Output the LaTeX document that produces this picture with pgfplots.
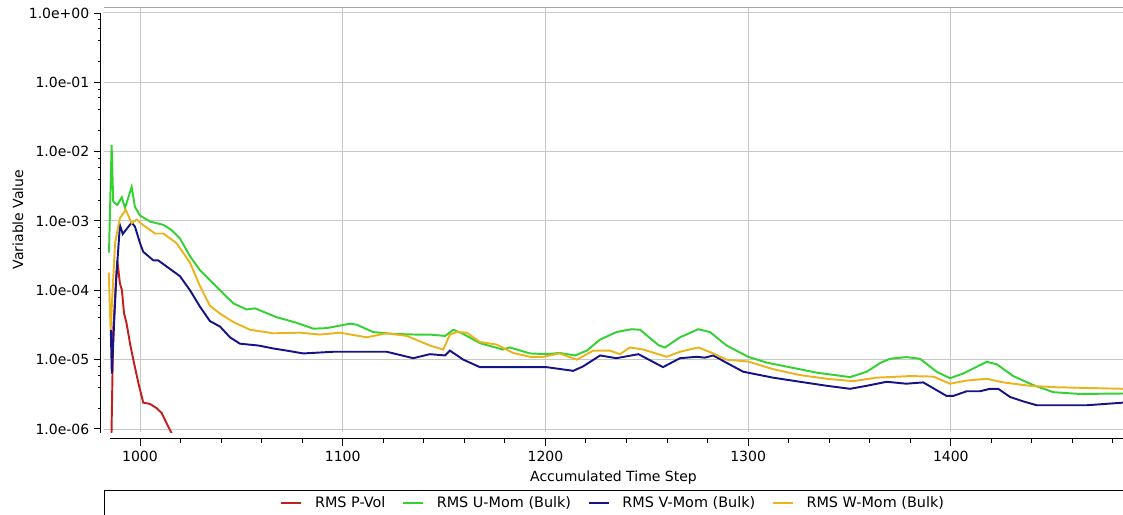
\documentclass[border=0pt]{standalone}
\usepackage{pgfplots}
\pgfplotsset{compat=1.18}
\usepackage{fontspec}
\setmainfont{DejaVu Sans}
\definecolor{cred}{RGB}{195,30,30}
\definecolor{cgreen}{RGB}{50,210,50}
\definecolor{cblue}{RGB}{20,20,135}
\definecolor{cyellow}{RGB}{235,180,30}
\newcommand{\lblfont}{\fontsize{10.5}{12}\selectfont}
\newcommand{\legfont}{\fontsize{10.8}{12}\selectfont}
\begin{document}
\begin{tikzpicture}
\begin{axis}[name=main, at={(0,0)}, anchor=south west, scale only axis,
  width=764.25pt, height=318.75pt,
  xmin=982.24, xmax=1484.95, ymode=log, ymin=9.05e-7, ymax=1.22,
  xtick={1000,1100,1200,1300,1400}, ytick={1e-6,1e-5,1e-4,1e-3,1e-2,1e-1,1},
  xticklabels={}, yticklabels={}, grid=major,
  grid style={black!22, line width=0.75pt},
  major tick length=0pt, minor tick length=0pt, axis line style={draw=none},
  xlabel={Accumulated Time Step}, ylabel={Variable Value},
  xlabel style={at={(axis description cs:0.5,-0.1082)}, anchor=center, font=\lblfont},
  ylabel style={at={(axis description cs:-0.0844,0.5)}, anchor=center, font=\lblfont},
  legend columns=4,
  legend style={at={(axis description cs:0.5,-0.167)}, anchor=center, draw=none, fill=none, font=\legfont,
    /tikz/every odd column/.append style={column sep=7.5pt},
    /tikz/every even column/.append style={column sep=10.5pt}},
  legend image code/.code={\draw[#1,line width=1.5pt] (0pt,0pt) -- (15pt,0pt);},
]
\addplot[cred, line width=1.45pt] coordinates {
(985.8,5e-7)(986.8,2.7e-5)(988.8,2.7e-4)(990.1,1.26e-4)(991.1,1e-4)(992.1,4.7e-5)(993.4,3.3e-5)
(995.1,1.7e-5)(996.7,1e-5)(999.2,4.6e-6)(1001.6,2.4e-6)(1004.9,2.3e-6)(1008.2,2e-6)(1010.7,1.7e-6)
(1013.2,1.2e-6)(1015.6,8.7e-7)(1017,6e-7)};
\addlegendentry{RMS P-Vol}
\addplot[cgreen, line width=1.45pt] coordinates {
(984.7,3.5e-4)(986.0,1.25e-2)(986.8,1.9e-3)(988.8,1.7e-3)(991.0,2.2e-3)(992.6,1.55e-3)(994.5,2.3e-3)
(995.9,3.1e-3)(997.5,1.6e-3)(1000,1.2e-3)(1005,9.8e-4)(1011.5,8.8e-4)(1015.6,7.4e-4)(1019.7,5.6e-4)
(1024.7,3.1e-4)(1029.6,1.95e-4)(1034.5,1.4e-4)(1039.5,1.0e-4)(1046,6.5e-5)(1052.6,5.3e-5)(1056.7,5.5e-5)
(1067.4,4.1e-5)(1077.3,3.4e-5)(1085.5,2.8e-5)(1092,2.85e-5)(1103.6,3.3e-5)(1106.9,3.2e-5)(1115,2.5e-5)
(1125,2.35e-5)(1136.5,2.3e-5)(1143,2.3e-5)(1150.5,2.2e-5)(1154.6,2.7e-5)(1159.5,2.35e-5)(1167.7,1.73e-5)
(1179,1.4e-5)(1182.5,1.5e-5)(1192.4,1.23e-5)(1200.6,1.2e-5)(1207,1.25e-5)(1214.6,1.15e-5)(1220.4,1.35e-5)
(1227,1.95e-5)(1235,2.5e-5)(1242.6,2.75e-5)(1246.7,2.7e-5)(1256,1.6e-5)(1259,1.5e-5)(1266.4,2.1e-5)
(1275.4,2.75e-5)(1281.2,2.5e-5)(1289.4,1.6e-5)(1300,1.1e-5)(1309,9.1e-6)(1322.3,7.6e-6)(1333.8,6.5e-6)
(1350.3,5.6e-6)(1358.5,6.7e-6)(1365,8.9e-6)(1370,1.03e-5)(1378,1.09e-5)(1384.8,1.03e-5)(1393,6.7e-6)
(1399.6,5.4e-6)(1406,6.3e-6)(1417.7,9.3e-6)(1422.6,8.6e-6)(1430.8,5.8e-6)(1440.7,4.3e-6)(1450.5,3.4e-6)
(1463.8,3.2e-6)(1485,3.25e-6)};
\addlegendentry{RMS U-Mom (Bulk)}
\addplot[cblue, line width=1.45pt] coordinates {
(985.6,2.7e-5)(986.1,6.3e-6)(988.2,1.4e-4)(990.1,8.7e-4)(991.5,6.5e-4)(993,7.4e-4)(995.9,9.5e-4)
(997.5,8.3e-4)(1000,4.8e-4)(1001.6,3.6e-4)(1006.6,2.7e-4)(1009,2.7e-4)(1013.2,2.2e-4)(1019.7,1.6e-4)
(1024.7,1e-4)(1029.6,5.8e-5)(1034.5,3.6e-5)(1039.5,3e-5)(1044.4,2.1e-5)(1049.3,1.7e-5)(1058.4,1.6e-5)
(1065.8,1.45e-5)(1072.4,1.35e-5)(1080.6,1.23e-5)(1095.3,1.3e-5)(1111.8,1.3e-5)(1121.7,1.3e-5)
(1134.8,1.05e-5)(1143,1.2e-5)(1150.5,1.15e-5)(1152.9,1.35e-5)(1159.5,1.0e-5)(1167.7,7.8e-6)
(1176,7.8e-6)(1192.4,7.8e-6)(1200.6,7.8e-6)(1213.7,6.9e-6)(1218.6,8e-6)(1227,1.15e-5)(1235,1.05e-5)
(1245.9,1.2e-5)(1258,7.8e-6)(1266.4,1.05e-5)(1274.6,1.1e-5)(1278.7,1.07e-5)(1282.8,1.15e-5)
(1289.4,9e-6)(1297.6,6.7e-6)(1312.3,5.5e-6)(1325.6,4.8e-6)(1338.8,4.2e-6)(1350.3,3.8e-6)
(1358.5,4.2e-6)(1368.4,4.8e-6)(1378,4.5e-6)(1386.4,4.7e-6)(1397.9,3e-6)(1401.2,3e-6)(1407.8,3.5e-6)
(1414.4,3.5e-6)(1419.3,3.8e-6)(1423.4,3.8e-6)(1429.2,2.9e-6)(1435.8,2.5e-6)(1442.4,2.2e-6)
(1467,2.2e-6)(1485,2.4e-6)};
\addlegendentry{RMS V-Mom (Bulk)}
\addplot[cyellow, line width=1.45pt] coordinates {
(984.6,1.8e-4)(985.5,2.7e-5)(987.7,4.8e-4)(990.1,1.1e-3)(993,1.45e-3)(995.9,9.3e-4)(998.4,1.05e-3)
(1001.6,8.7e-4)(1007.4,6.6e-4)(1011.5,6.6e-4)(1018,4.8e-4)(1024.7,2.5e-4)(1029.6,1.15e-4)(1034.5,6e-5)
(1039.5,4.6e-5)(1046,3.5e-5)(1054.3,2.7e-5)(1065.8,2.4e-5)(1079,2.45e-5)(1088.8,2.3e-5)(1098.7,2.45e-5)
(1111.8,2.1e-5)(1121.7,2.4e-5)(1131.6,2.2e-5)(1143,1.6e-5)(1149.6,1.4e-5)(1152.9,2.3e-5)(1156.2,2.5e-5)
(1161.2,2.45e-5)(1167.7,1.8e-5)(1176,1.65e-5)(1184.1,1.25e-5)(1192.4,1.1e-5)(1199,1.1e-5)(1207,1.23e-5)
(1215.4,1.0e-5)(1223.6,1.35e-5)(1231.9,1.35e-5)(1236.8,1.2e-5)(1241.7,1.5e-5)(1248.3,1.4e-5)
(1259.8,1.1e-5)(1266.4,1.3e-5)(1275.4,1.5e-5)(1282.8,1.23e-5)(1289.4,1.0e-5)(1300,9.4e-6)
(1312.3,7.3e-6)(1325.6,6e-6)(1338.8,5.3e-6)(1351.9,4.9e-6)(1363.4,5.5e-6)(1380,5.8e-6)(1391.4,5.7e-6)
(1399.6,4.5e-6)(1407.8,5e-6)(1417.7,5.3e-6)(1425.9,4.7e-6)(1439,4.2e-6)(1452.2,4e-6)(1485,3.8e-6)};
\addlegendentry{RMS W-Mom (Bulk)}
\draw[black!35, line width=0.75pt] (rel axis cs:0,0) -- (rel axis cs:0,1) -- (rel axis cs:1,1);
\end{axis}
% y tick axis
\begin{axis}[at={(-2.25pt,-0.75pt)}, anchor=south west, scale only axis,
  width=1pt, height=315pt, xmin=0, xmax=1, ymode=log, ymin=8.75e-7, ymax=1,
  axis x line=none, axis y line=left, axis line style={-, black, line width=0.75pt},
  ytick={1e-6,1e-5,1e-4,1e-3,1e-2,1e-1,1},
  yticklabels={1.0e-06,1.0e-05,1.0e-04,1.0e-03,1.0e-02,1.0e-01,1.0e+00},
  minor ytick={2e-6,4e-6,6e-6,8e-6,2e-5,4e-5,6e-5,8e-5,2e-4,4e-4,6e-4,8e-4,2e-3,4e-3,6e-3,8e-3,2e-2,4e-2,6e-2,8e-2,2e-1,4e-1,6e-1,8e-1},
  tick align=outside, major tick length=5.25pt, minor tick length=2.25pt,
  tick style={black, line width=0.75pt}, yticklabel style={font=\lblfont},
]
\end{axis}
% x tick axis
\begin{axis}[at={(4.5pt,-4.5pt)}, anchor=south west, scale only axis,
  width=759.75pt, height=1pt, xmin=985.2, xmax=1484.95, ymin=0, ymax=1,
  axis y line=none, axis x line=bottom, axis line style={-, black, line width=0.75pt},
  xtick={1000,1100,1200,1300,1400}, xticklabels={1000,1100,1200,1300,1400},
  minor xtick={1000,1020,...,1480},
  tick align=outside, major tick length=6pt, minor tick length=3.4pt,
  tick style={black, line width=0.75pt}, xticklabel style={font=\lblfont},
]
\end{axis}
\draw[black, line width=0.75pt] (0,-70pt) -- (0,-43.5pt) -- (780pt,-43.5pt);
\pgfresetboundingbox
\useasboundingbox (-78pt,-61.5pt) rectangle (764.25pt,324pt);
\end{tikzpicture}
\end{document}
